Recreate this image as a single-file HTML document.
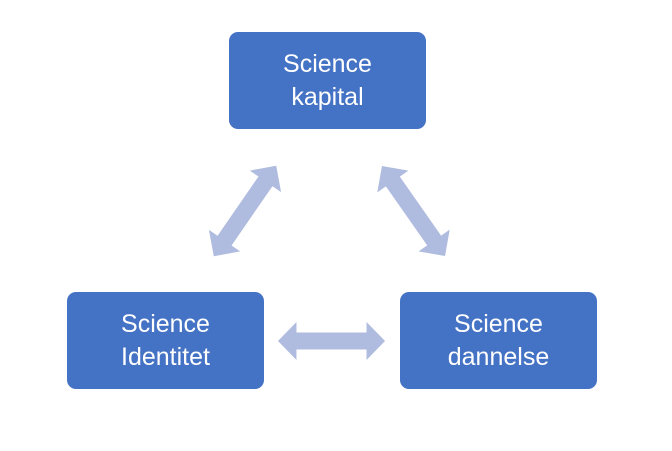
<!DOCTYPE html>
<html><head><meta charset="utf-8"><style>
html,body{margin:0;padding:0;background:#fff;}
body{width:672px;height:451px;position:relative;overflow:hidden;font-family:"Liberation Sans",sans-serif;}
.b{position:absolute;width:197px;height:97px;background:#4472C4;border-radius:9px;color:#fff;font-size:25px;line-height:33px;display:flex;align-items:center;justify-content:center;text-align:center;}
svg{position:absolute;left:0;top:0;}
</style></head><body>
<svg width="672" height="451">
<defs><polygon id="a" points="-55,0 -36,-19 -36,-8.5 36,-8.5 36,-19 55,0 36,19 36,8.5 -36,8.5 -36,19" fill="#B0BCDF"/></defs>
<use href="#a" transform="translate(331.5,341) scale(0.973,1)"/>
<use href="#a" transform="translate(245,211) rotate(-55.4)"/>
<use href="#a" transform="translate(413.5,211) rotate(55)"/>
</svg>
<div class="b" style="left:229px;top:32px;">Science<br>kapital</div>
<div class="b" style="left:67px;top:292px;">Science<br>Identitet</div>
<div class="b" style="left:400px;top:292px;">Science<br>dannelse</div>
</body></html>
